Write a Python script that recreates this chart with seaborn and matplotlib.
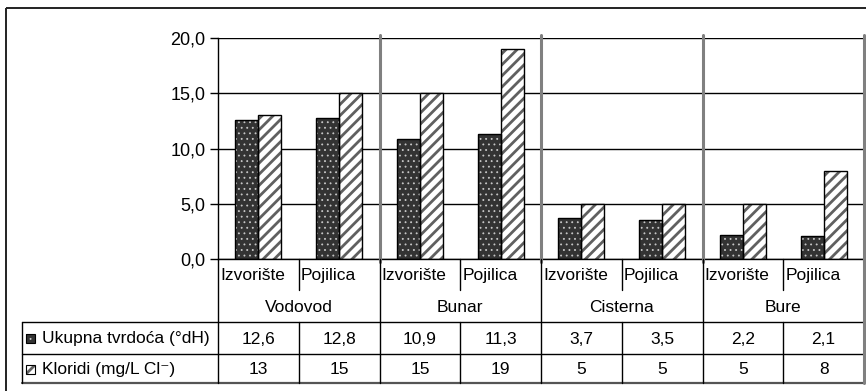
import matplotlib
matplotlib.use('Agg')
import matplotlib.pyplot as plt
import seaborn as sns
import pandas as pd
from matplotlib.patches import Rectangle

# Data
groups = ['Vodovod', 'Bunar', 'Cisterna', 'Bure']
sites = ['Izvorište', 'Pojilica']
series_names = ['Ukupna tvrdoća (°dH)', 'Kloridi (mg/L Cl⁻)']
hardness = [12.6, 12.8, 10.9, 11.3, 3.7, 3.5, 2.2, 2.1]
chlorides = [13, 15, 15, 19, 5, 5, 5, 8]
y_ticks = [0, 5, 10, 15, 20]

W, H = 866, 391
sns.set_theme(style='white')
plt.rcParams['font.family'] = ['Liberation Sans', 'DejaVu Sans']
plt.rcParams['hatch.linewidth'] = 1.6

fig = plt.figure(figsize=(W / 100, H / 100), dpi=100)
fig.patch.set_facecolor('white')

# Layout (pixels)
L, R = 218, 864
TOP, ZERO = 38, 259
ROW1, ROW2, ROW3, ROW4 = 290, 322, 354, 383
TL = 22
ncat = len(groups) * len(sites)
colw = (R - L) / ncat


def fx(px):
    return px / W


def fy(py):
    return 1 - py / H


ax = fig.add_axes([fx(L), fy(ZERO), fx(R) - fx(L), fy(TOP) - fy(ZERO)])

cats = [f'{g}|{s}' for g in groups for s in sites]
df = pd.DataFrame({
    'cat': cats * 2,
    'series': [series_names[0]] * ncat + [series_names[1]] * ncat,
    'value': hardness + chlorides,
})

sns.barplot(data=df, x='cat', y='value', hue='series', order=cats,
            hue_order=series_names, palette=['#333333', '#ffffff'],
            width=0.57, dodge=True, legend=False, saturation=1,
            errorbar=None, ax=ax)

styles = [dict(hatch='...', face='#333333', hcolor='#c8c8c8', hlw=0.6),
          dict(hatch='///', face='#ffffff', hcolor='#606060', hlw=2.0)]


def style_patch(p, st):
    p.set_facecolor(st['face'])
    p.set_edgecolor(st['hcolor'])
    p.set_hatch(st['hatch'])
    p.set_linewidth(0)
    if hasattr(p, 'set_hatch_linewidth'):
        p.set_hatch_linewidth(st['hlw'])


for cont, st in zip(ax.containers, styles):
    for bar in cont:
        style_patch(bar, st)
        ax.add_patch(Rectangle(bar.get_xy(), bar.get_width(), bar.get_height(),
                               fill=False, edgecolor='black', lw=1.0,
                               zorder=bar.get_zorder() + 0.1))

ax.set_xlim(-0.5, ncat - 0.5)
ax.set_ylim(0, 20)
ax.set_yticks(y_ticks)
ax.set_yticklabels([f'{v:.1f}'.replace('.', ',') for v in y_ticks])
ax.set_xticks([])
ax.set_xlabel('')
ax.set_ylabel('')
ax.set_axisbelow(True)
ax.yaxis.grid(True, color='black', lw=1.0)
for side in ['top', 'right']:
    ax.spines[side].set_visible(False)
for side in ['left', 'bottom']:
    ax.spines[side].set_color('black')
    ax.spines[side].set_linewidth(1.0)
ax.tick_params(axis='y', left=True, length=6, width=1, color='black',
               labelsize=13, pad=3, labelcolor='black')

# Gray separators between the groups
for k in range(1, len(groups) + 1):
    xb = 2 * k - 0.5
    ax.plot([xb, xb], [20.27, -0.27], color='#808080', lw=2.2,
            clip_on=False, zorder=5)

# Data table under the chart
tab = fig.add_axes([0, 0, 1, 1])
tab.set_xlim(0, W)
tab.set_ylim(H, 0)
tab.axis('off')

tab.add_patch(Rectangle((6, 8), W, H, fill=False, edgecolor='#222222', lw=1.4))


def hline(y, x0, x1, color='black', lw=1.0):
    tab.plot([x0, x1], [y, y], color=color, lw=lw)


def vline(x, y0, y1, color='black', lw=1.0):
    tab.plot([x, x], [y0, y1], color=color, lw=lw)


hline(ROW2, TL, R)
hline(ROW3, TL, R)
hline(ROW4, TL, R, color='#555555', lw=1.6)
vline(TL, ROW2, ROW4)
vline(L, ZERO, ROW4)
vline(R, ZERO, ROW4, color='#808080', lw=2.2)
for i in range(1, ncat):
    xb = L + colw * i
    if i % 2 == 0:
        vline(xb, ZERO, ROW4)
    else:
        vline(xb, ZERO, ROW1)
        vline(xb, ROW2, ROW4)

fs = 12.5
for i, c in enumerate(cats):
    site = c.split('|')[1]
    tab.text(L + colw * i + 2, (ZERO + ROW1) / 2 + 1, site, ha='left',
             va='center', fontsize=fs, color='black')
for k, g in enumerate(groups):
    tab.text(L + colw * (2 * k + 1), (ROW1 + ROW2) / 2 + 1, g, ha='center',
             va='center', fontsize=fs, color='black')

for i in range(ncat):
    xc = L + colw * (i + 0.5)
    tab.text(xc, (ROW2 + ROW3) / 2 + 1, f'{hardness[i]:.1f}'.replace('.', ','),
             ha='center', va='center', fontsize=fs, color='black')
    tab.text(xc, (ROW3 + ROW4) / 2 + 1, f'{chlorides[i]:g}',
             ha='center', va='center', fontsize=fs, color='black')

# Legend keys inside the table
for row_y, st, name in [((ROW2 + ROW3) / 2, styles[0], series_names[0]),
                        ((ROW3 + ROW4) / 2, styles[1], series_names[1])]:
    key = Rectangle((26, row_y - 4), 9, 9, lw=0)
    style_patch(key, st)
    tab.add_patch(key)
    tab.add_patch(Rectangle((26, row_y - 4), 9, 9, fill=False,
                            edgecolor='black', lw=0.8))
    tab.text(42, row_y + 1, name, ha='left', va='center', fontsize=fs,
             color='black')

fig.savefig('out.png', dpi=100)
